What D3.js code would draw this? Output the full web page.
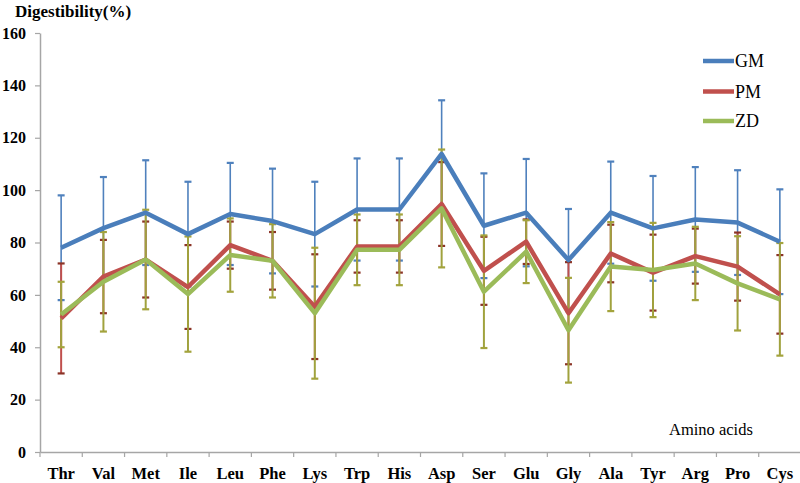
<!DOCTYPE html>
<html><head><meta charset="utf-8">
<script src="https://cdn.jsdelivr.net/npm/d3@7"></script>
<style>body{margin:0;background:#fff}svg{display:block}</style>
</head><body>
<script>
const categories = ["Thr","Val","Met","Ile","Leu","Phe","Lys","Trp","His","Asp","Ser","Glu","Gly","Ala","Tyr","Arg","Pro","Cys"];
const gmValues = [78, 85.5, 91.4, 83.2, 90.9, 88.2, 83.2, 92.6, 92.6, 113.8, 86.4, 91.4, 73.3, 91.4, 85.4, 88.8, 87.6, 80.3];
const gmErrors = [20, 19.5, 20, 20, 19.5, 20, 20, 19.5, 19.5, 20.5, 20, 20.5, 19.5, 19.5, 20, 20, 20, 20];
const pmValues = [51, 67, 73.5, 63, 79, 73, 55.5, 78.5, 78.5, 94.7, 69.2, 80.3, 53, 75.8, 68.5, 74.8, 70.8, 60.2];
const pmErrors = [21, 14, 14.5, 16, 9, 11, 20, 10, 10, 16, 13, 8.5, 19.5, 11, 14.5, 10.5, 13, 15];
const zdValues = [52.5, 65, 73.5, 60.3, 75.2, 73, 53, 77.2, 77.2, 93, 61.2, 76.5, 46.5, 70.8, 69.5, 72, 64.4, 58.3];
const zdErrors = [12.5, 19, 19, 22, 14, 14, 25, 13.5, 13.5, 22.5, 21.5, 12, 20, 17, 18, 14, 18, 21.5];
const yTicks = [0, 20, 40, 60, 80, 100, 120, 140, 160];
const seriesNames = ["GM", "PM", "ZD"];

const W = 800, H = 483;
const svg = d3.select("body").append("svg").attr("width", W).attr("height", H);
const x = d3.scaleBand().domain(categories).range([40, 801]);
const y = d3.scaleLinear().domain([0, 160]).range([452, 33]);
const cx = c => x(c) + x.bandwidth() / 2;
const serif = '"Liberation Serif"';
const axisColor = "#a6a6a6";

// Y axis
const ya = svg.append("g").attr("transform", "translate(40,0)")
  .call(d3.axisLeft(y).tickValues(yTicks).tickSize(5).tickSizeOuter(0).tickPadding(10));
ya.attr("font-family", null);
ya.select(".domain").attr("stroke", axisColor).attr("stroke-width", 1.5);
ya.selectAll(".tick line").attr("stroke", axisColor).attr("stroke-width", 1.2);
ya.selectAll(".tick text").style("font-family", serif).style("font-weight", "bold")
  .style("font-size", "16px").attr("fill", "#000").attr("x", -14);

// X axis
const xa = svg.append("g").attr("transform", "translate(0,452)")
  .call(d3.axisBottom(x).tickSize(0).tickSizeOuter(0).tickPadding(15));
xa.attr("font-family", null);
xa.select(".domain").attr("stroke", axisColor).attr("stroke-width", 1.5);
xa.selectAll(".tick text").style("font-family", serif).style("font-weight", "bold")
  .style("font-size", "16.5px").attr("fill", "#000");
// boundary ticks
svg.append("g").selectAll("line").data(categories).join("line")
  .attr("x1", d => x(d)).attr("x2", d => x(d)).attr("y1", 452).attr("y2", 457)
  .attr("stroke", axisColor).attr("stroke-width", 1.2);

// Error bars
function errorBars(vals, errs, color, capColor, width, capW) {
  const g = svg.append("g");
  categories.forEach((c, i) => {
    const hi = y(vals[i] + errs[i]), lo = y(vals[i] - errs[i]);
    g.append("line").attr("x1", cx(c)).attr("x2", cx(c)).attr("y1", hi).attr("y2", lo)
      .attr("stroke", color).attr("stroke-width", width);
    [hi, lo].forEach(yy => g.append("line").attr("x1", cx(c) - capW).attr("x2", cx(c) + capW)
      .attr("y1", yy).attr("y2", yy).attr("stroke", capColor).attr("stroke-width", 2.2));
  });
}
errorBars(gmValues, gmErrors, "#4f81bd", "#4f81bd", 1.6, 3.5);
errorBars(pmValues, pmErrors, "#c0504d", "#8b3326", 2, 3.5);
errorBars(zdValues, zdErrors, "#a0a23e", "#a3a33c", 2, 3.5);

// Lines
const line = d3.line().x((d, i) => cx(categories[i])).y(d => y(d));
const lines = [[pmValues, "#c0504d"], [zdValues, "#9bbb59"], [gmValues, "#4a7ebb"]];
lines.forEach(([v, col]) => {
  svg.append("path").attr("d", line(v)).attr("fill", "none").attr("stroke", col)
    .attr("stroke-width", 4.5).attr("stroke-linejoin", "round");
});

// Legend
const legendColors = ["#4a7ebb", "#c0504d", "#9bbb59"];
const legendY = [61, 91.5, 121];
seriesNames.forEach((n, i) => {
  svg.append("line").attr("x1", 703).attr("x2", 734).attr("y1", legendY[i]).attr("y2", legendY[i])
    .attr("stroke", legendColors[i]).attr("stroke-width", 4.5);
  svg.append("text").attr("x", 735).attr("y", legendY[i] + 6).text(n)
    .style("font-family", serif).style("font-size", "18px").attr("fill", "#000");
});

// Titles
svg.append("text").attr("x", 15).attr("y", 17).text("Digestibility(%)")
  .style("font-family", serif).style("font-weight", "bold").style("font-size", "17px").attr("fill", "#000");
svg.append("text").attr("x", 669).attr("y", 435).text("Amino acids")
  .style("font-family", serif).style("font-size", "16.5px").attr("fill", "#000");
</script>
</body></html>
